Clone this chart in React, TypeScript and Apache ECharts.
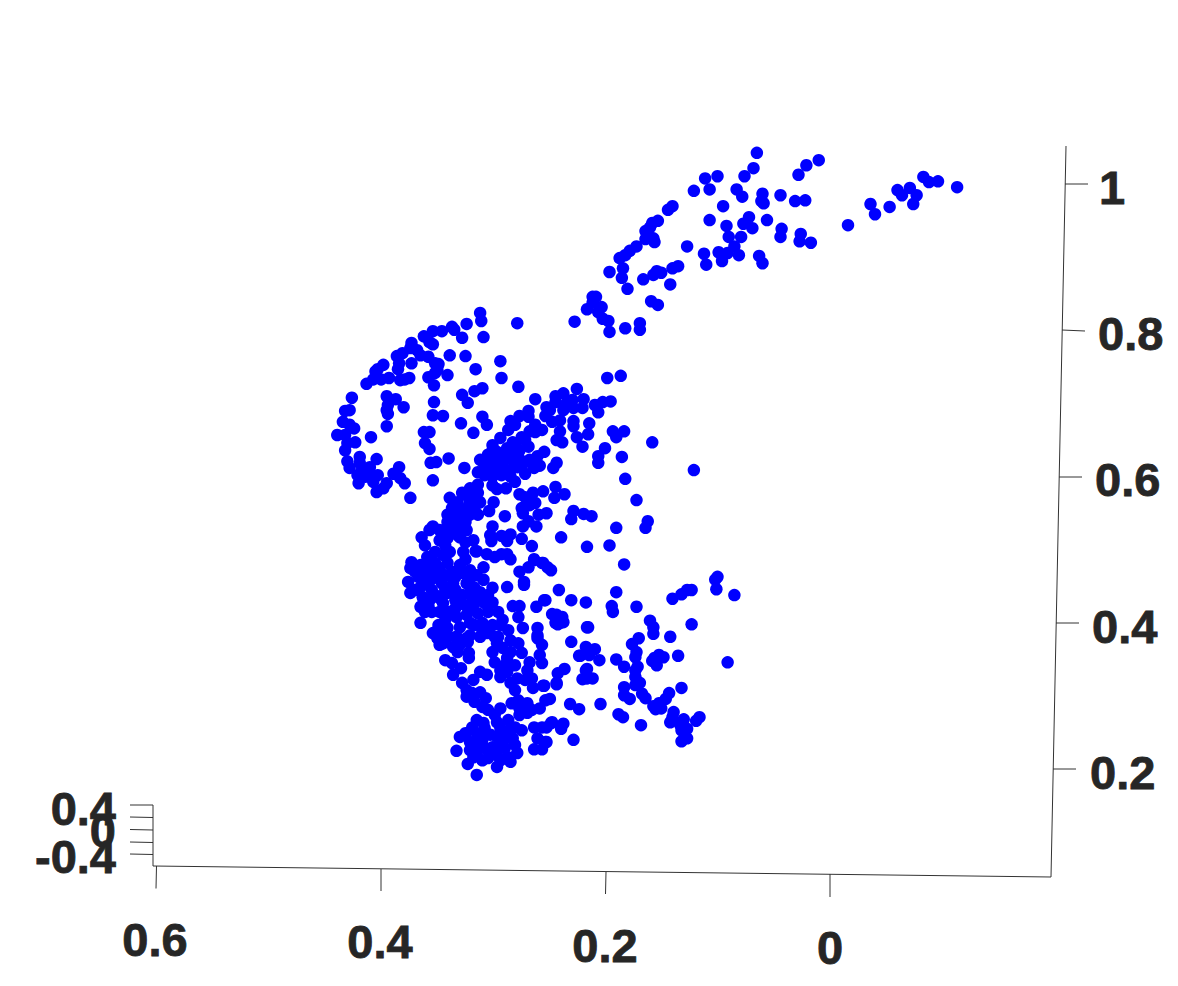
import React, { useEffect, useRef } from "react";
import * as echarts from "echarts";

const upperArm = [[.065,1.044],[.068,1.023],[.076,1.012],[.100,1.012],[.111,1.009],[.107,.994],[.121,.992],[.083,.994],[.078,.984],[.060,.988],[.061,.978],[.059,.975],[.044,.986],[.031,.978],[.022,.979],[.028,1.014],[.021,1.027],[.010,1.034],[.095,.971],[.140,.971],[.144,.966],[.107,.952],[.072,.956],[.056,.952],[.077,.947],[.069,.941],[.092,.944],[.153,.951],[.158,.948],[.160,.942],[.164,.937],[.157,.927],[.156,.922],[.164,.926],[.172,.916],[.178,.910],[.182,.904],[.187,.900],[.184,.886],[.196,.881],[.185,.873],[.180,.858],[.166,.871],[.157,.877],[.154,.882],[.150,.880],[.140,.886],[.135,.889],[.142,.864],[.127,.916],[.112,.906],[.110,.891],[.099,.908],[.096,.896],[.096,.904],[.090,.929],[.079,.929],[.085,.916],[.091,.907],[.081,.904],[.063,.903],[.060,.893],[.043,.940],[.044,.929],[.026,.933],[.027,.923],[.017,.921],[-.016,.945],[-.036,.974],[-.040,.960],[-.053,.970],[-.060,.993],[-.064,.986],[-.071,.996],[-.077,.986],[-.074,.974],[-.083,1.011],[-.088,1.004],[-.096,1.005],[-.113,.997],[.211,.847],[.208,.847],[.211,.839],[.203,.833],[.216,.830],[.206,.826],[.202,.817],[.197,.814],[.227,.813],[.196,.799],[.182,.804],[.169,.811],[.169,.802],[.159,.841],[.153,.836]];

const leftArc = [[.311,.825],[.310,.814],[.323,.810],[.278,.811],[.336,.806],[.334,.802],[.345,.800],[.353,.800],[.361,.793],[.356,.785],[.353,.782],[.327,.791],[.308,.792],[.372,.784],[.373,.777],[.367,.774],[.380,.770],[.385,.766],[.364,.767],[.372,.756],[.357,.765],[.338,.767],[.324,.766],[.293,.759],[.383,.756],[.384,.748],[.397,.754],[.402,.748],[.404,.745],[.351,.756],[.348,.755],[.349,.747],[.315,.748],[.340,.740],[.351,.743],[.357,.737],[.292,.736],[.352,.726],[.277,.724],[.374,.736],[.382,.733],[.378,.734],[.392,.736],[.399,.734],[.406,.734],[.412,.728],[.309,.722],[.316,.718],[.327,.713],[.322,.702],[.425,.709],[.394,.711],[.386,.707],[.393,.699],[.394,.692],[.379,.696],[.393,.687],[.394,.670],[.352,.703],[.353,.685],[.344,.684],[.328,.674],[.309,.683],[.305,.672],[.317,.661],[.427,.692],[.431,.691],[.433,.676],[.427,.672],[.423,.667],[.438,.658],[.431,.658],[.429,.647],[.422,.648],[.431,.637],[.408,.655],[.361,.662],[.356,.662],[.360,.647],[.356,.639],[.418,.628],[.403,.625],[.429,.622],[.427,.613],[.339,.626],[.350,.621],[.355,.620],[.325,.613],[.383,.614],[.388,.605],[.382,.599],[.378,.592],[.353,.596],[.373,.572],[.418,.620],[.416,.610],[.409,.614],[.402,.603],[.413,.601],[.420,.603],[.419,.592],[.406,.594],[.394,.592],[.397,.585],[.403,.580],[.411,.606]];

const midBand = [[.186,.739],[.198,.736],[.225,.721],[.262,.707],[.237,.715],[.244,.711],[.244,.703],[.229,.706],[.219,.707],[.195,.704],[.202,.703],[.209,.699],[.206,.689],[.220,.695],[.228,.695],[.234,.702],[.237,.692],[.252,.696],[.268,.691],[.276,.684],[.268,.683],[.253,.684],[.240,.678],[.247,.676],[.228,.677],[.228,.670],[.214,.674],[.215,.659],[.225,.655],[.240,.663],[.243,.651],[.238,.648],[.220,.642],[.193,.663],[.183,.663],[.190,.655],[.158,.648],[.200,.640],[.206,.629],[.206,.620],[.185,.628],[.121,.610],[.182,.598],[.172,.569],[.162,.540],[.164,.531],[.190,.531],[.196,.507],[.216,.505],[.239,.518],[.265,.506],[.284,.677],[.280,.672],[.286,.665],[.293,.654],[.267,.663],[.256,.665],[.262,.662],[.300,.644],[.274,.655],[.282,.648],[.268,.642],[.287,.640],[.296,.635],[.304,.631],[.311,.624],[.298,.624],[.291,.626],[.283,.631],[.277,.628],[.271,.621],[.254,.635],[.260,.629],[.258,.616],[.263,.613],[.271,.605],[.243,.620],[.246,.613],[.278,.614],[.291,.613],[.302,.614],[.313,.607],[.300,.601],[.292,.603],[.284,.601],[.280,.594],[.296,.584],[.288,.585],[.299,.566],[.303,.554],[.289,.547],[.300,.533],[.302,.521],[.301,.513],[.292,.520],[.284,.522],[.287,.513],[.274,.516],[.244,.587],[.255,.581],[.264,.579],[.276,.577],[.271,.573],[.262,.565],[.267,.562],[.274,.558],[.273,.551],[.236,.577],[.245,.572],[.252,.551],[.259,.549],[.228,.554],[.230,.543],[.219,.550],[.212,.547],[.268,.540],[.273,.533],[.261,.533],[.315,.499],[.305,.495],[.292,.495],[.287,.495],[.284,.488],[.263,.488],[.300,.637],[.289,.624],[.280,.617],[.307,.617],[.296,.610],[.284,.610],[.307,.603],[.293,.631],[.280,.644],[.271,.651],[.262,.672],[.249,.692],[.276,.637],[.267,.624],[.300,.589]];

const denseBlob = [[.313,.590],[.320,.585],[.313,.579],[.327,.579],[.338,.572],[.318,.572],[.331,.566],[.311,.566],[.322,.559],[.336,.558],[.316,.558],[.329,.553],[.340,.549],[.320,.549],[.313,.549],[.333,.544],[.340,.539],[.324,.539],[.332,.532],[.340,.528],[.323,.528],[.353,.533],[.356,.528],[.363,.518],[.360,.507],[.340,.517],[.329,.518],[.317,.514],[.324,.511],[.342,.507],[.351,.498],[.326,.498],[.324,.488],[.314,.499],[.308,.477],[.344,.494],[.358,.491],[.372,.484],[.373,.476],[.364,.480],[.351,.483],[.340,.483],[.375,.457],[.373,.442],[.366,.464],[.357,.471],[.348,.469],[.336,.471],[.326,.469],[.314,.466],[.308,.460],[.364,.450],[.357,.455],[.345,.455],[.335,.455],[.323,.455],[.300,.449],[.316,.449],[.362,.436],[.351,.439],[.340,.442],[.327,.439],[.318,.436],[.304,.439],[.364,.423],[.357,.425],[.354,.416],[.364,.401],[.344,.428],[.333,.421],[.324,.425],[.316,.428],[.307,.428],[.300,.429],[.332,.409],[.323,.412],[.313,.414],[.304,.416],[.295,.416],[.291,.405],[.286,.391],[.342,.405],[.348,.398],[.351,.388],[.340,.394],[.329,.395],[.320,.401],[.309,.401],[.300,.398],[.309,.387],[.340,.384],[.332,.382],[.323,.380],[.298,.382],[.287,.450],[.282,.424],[.276,.424],[.277,.409],[.273,.394],[.260,.394],[.260,.384],[.261,.423],[.254,.432],[.247,.413],[.276,.471],[.272,.457],[.272,.453],[.268,.477],[.263,.487],[.251,.477],[.256,.483],[.298,.491]];

const denseFill = [[.369,.471],[.360,.460],[.353,.462],[.342,.466],[.333,.464],[.320,.462],[.369,.446],[.354,.446],[.342,.446],[.333,.446],[.320,.443],[.311,.443],[.356,.432],[.347,.435],[.333,.432],[.311,.435],[.360,.416],[.347,.416],[.338,.416],[.320,.419],[.329,.480],[.320,.473],[.347,.476],[.357,.480],[.364,.471],[.324,.576],[.320,.565],[.333,.558],[.327,.549],[.338,.535],[.331,.521],[.347,.528],[.347,.514],[.338,.498],[.293,.398],[.316,.398],[.284,.377],[.289,.343],[.280,.343],[.320,.384],[.280,.309],[.271,.323],[.342,.388],[.347,.371],[.329,.371],[.302,.248],[.314,.237],[.302,.220],[.293,.234],[.284,.254],[.293,.213],[.320,.227],[.308,.252],[.286,.268],[.274,.254],[.296,.265]];

const lowerBlob = [[.260,.380],[.256,.371],[.230,.375],[.216,.395],[.240,.401],[.244,.401],[.222,.356],[.217,.368],[.217,.336],[.216,.325],[.220,.324],[.353,.387],[.349,.380],[.340,.382],[.331,.380],[.322,.375],[.344,.373],[.335,.368],[.331,.361],[.321,.360],[.321,.353],[.342,.350],[.336,.346],[.328,.339],[.335,.330],[.327,.319],[.317,.323],[.311,.334],[.305,.330],[.323,.309],[.318,.305],[.311,.306],[.323,.300],[.306,.298],[.316,.293],[.309,.286],[.304,.282],[.298,.275],[.293,.284],[.283,.291],[.277,.295],[.269,.291],[.276,.284],[.276,.275],[.269,.278],[.265,.282],[.258,.284],[.253,.295],[.249,.297],[.231,.290],[.223,.283],[.305,.387],[.295,.382],[.311,.382],[.296,.373],[.300,.361],[.291,.367],[.277,.373],[.284,.361],[.274,.360],[.298,.347],[.287,.353],[.267,.347],[.256,.346],[.258,.357],[.293,.336],[.287,.334],[.293,.327],[.269,.336],[.265,.325],[.278,.325],[.284,.319],[.264,.312],[.255,.315],[.243,.319],[.242,.332],[.236,.338],[.314,.268],[.318,.258],[.308,.264],[.324,.250],[.329,.245],[.314,.250],[.307,.257],[.320,.238],[.309,.241],[.332,.226],[.322,.208],[.314,.193],[.314,.223],[.307,.230],[.317,.217],[.309,.213],[.300,.231],[.296,.245],[.293,.257],[.287,.245],[.280,.258],[.282,.243],[.280,.234],[.289,.230],[.296,.220],[.304,.216],[.278,.223],[.286,.217],[.284,.211],[.296,.204],[.263,.258],[.256,.258],[.248,.264],[.237,.263],[.239,.256],[.260,.243],[.252,.238],[.263,.228],[.256,.228],[.228,.241]];

const rightScatter = [[.183,.481],[.255,.483],[.248,.473],[.100,.464],[.102,.460],[.101,.447],[.085,.439],[.123,.446],[.127,.446],[.132,.440],[.140,.434],[.190,.443],[.241,.446],[.253,.432],[.230,.432],[.217,.429],[.194,.424],[.193,.416],[.172,.423],[.243,.412],[.238,.409],[.237,.402],[.242,.399],[.215,.395],[.160,.404],[.157,.395],[.157,.386],[.123,.399],[.142,.382],[.170,.380],[.176,.372],[.209,.365],[.214,.357],[.223,.356],[.205,.350],[.190,.351],[.172,.361],[.173,.354],[.135,.356],[.152,.357],[.148,.354],[.158,.349],[.154,.343],[.156,.353],[.091,.347],[.183,.341],[.171,.341],[.173,.336],[.173,.327],[.243,.317],[.254,.315],[.216,.338],[.211,.325],[.169,.319],[.173,.316],[.132,.312],[.183,.313],[.183,.302],[.178,.297],[.167,.304],[.164,.298],[.143,.305],[.146,.297],[.157,.287],[.152,.291],[.150,.284],[.155,.283],[.204,.290],[.188,.276],[.184,.272],[.168,.261],[.139,.279],[.140,.272],[.142,.265],[.130,.269],[.133,.261],[.127,.256],[.132,.254],[.116,.272],[.119,.267],[.127,.243],[.132,.239],[.247,.265],[.252,.258],[.253,.238]];

const xTickValues = [0, 0.2, 0.4, 0.6];
const xTickLabels = ["0", "0.2", "0.4", "0.6"];
const yTickValues = [0.2, 0.4, 0.6, 0.8, 1];
const yTickLabels = ["0.2", "0.4", "0.6", "0.8", "1"];
const zTickLabels = ["0.4", "0", "-0.4"];

const TEXT = "#262626";
const LINE = "#333333";
const FONT = "'Liberation Sans', Arial, sans-serif";
const FS = 47;
const STROKE = 0.8;

const seg = (x1: number, y1: number, x2: number, y2: number) => ({
  type: "line",
  silent: true,
  shape: { x1, y1, x2, y2 },
  style: { stroke: LINE, lineWidth: 1 },
});

export default function App() {
  const ref = useRef<HTMLDivElement>(null);
  useEffect(() => {
    document.body.style.margin = "0";
    const chart = echarts.init(ref.current!, undefined, { renderer: "svg" });
    const xRich: any = {};
    xTickLabels.forEach((l, i) => {
      xRich["t" + i] = { fontSize: FS, fontWeight: "bold", fontFamily: FONT, color: TEXT, textBorderColor: TEXT, textBorderWidth: STROKE, padding: [[8, 0, 0, 0], [6, 0, 0, 0], [2, 0, 0, 0], [0, 0, 0, 0]][i] };
    });
    const yRich: any = {};
    yTickLabels.forEach((l, i) => {
      yRich["t" + i] = { fontSize: FS, fontWeight: "bold", fontFamily: FONT, color: TEXT, textBorderColor: TEXT, textBorderWidth: STROKE, padding: [5, 0, 0, [0, 2, 5, 8, 9][i]] };
    });
    chart.setOption({
      animation: false,
      backgroundColor: "#ffffff",
      grid: { left: 42.5, width: 1012.5, top: 38.8, height: 877.2 },
      xAxis: {
        type: "value",
        inverse: true,
        min: -0.2,
        max: 0.7,
        splitLine: { show: false },
        axisLine: { show: false },
        axisTick: { show: false },
        axisLabel: {
          margin: 0,
          customValues: xTickValues,
          formatter: (v: number) => {
            const i = xTickValues.findIndex((t) => Math.abs(t - v) < 1e-6);
            return i < 0 ? "" : `{t${i}|${xTickLabels[i]}}`;
          },
          rich: xRich,
        },
      },
      yAxis: {
        type: "value",
        position: "right",
        min: 0,
        max: 1.2,
        splitLine: { show: false },
        axisLine: { show: false },
        axisTick: { show: false },
        axisLabel: {
          margin: 35,
          align: "left",
          customValues: yTickValues,
          formatter: (v: number) => {
            const i = yTickValues.findIndex((t) => Math.abs(t - v) < 1e-6);
            return i < 0 ? "" : `{t${i}|${yTickLabels[i]}}`;
          },
          rich: yRich,
        },
      },
      graphic: {
        elements: [
          seg(153, 866, 1051, 877),
          seg(1066, 146, 1051, 877),
          seg(153, 805, 153, 866),
          seg(156.5, 866, 156, 888.5),
          seg(381, 869, 381, 891),
          seg(606, 872, 605.5, 894),
          seg(830, 874, 830, 897),
          seg(1065, 184, 1088, 184),
          seg(1062, 330, 1085, 331),
          seg(1059, 477, 1082, 477),
          seg(1056, 623, 1079, 623),
          seg(1053, 769, 1076, 769),
          seg(130, 805, 153, 805),
          seg(130, 817, 153, 817.5),
          seg(130, 829.5, 153, 830),
          seg(130, 842, 153, 842.5),
          seg(130, 854, 153, 854.5),
          ...zTickLabels.map((t, i) => ({
            type: "text",
            silent: true,
            x: 116,
            y: [808, 830, 856][i],
            style: {
              text: t,
              fontSize: FS,
              fontWeight: "bold",
              fontFamily: FONT,
              fill: TEXT,
              stroke: TEXT,
              lineWidth: STROKE,
              textAlign: "right",
              textVerticalAlign: "middle",
            },
          })),
        ],
      },
      series: [
        {
          type: "scatter",
          symbol: "circle",
          symbolSize: 12.5,
          clip: false,
          itemStyle: { color: "#0000ff", opacity: 1 },
          data: [...upperArm, ...leftArc, ...midBand, ...denseBlob, ...denseFill, ...lowerBlob, ...rightScatter],
        },
      ],
    });
    return () => chart.dispose();
  }, []);
  return <div ref={ref} style={{ width: 1178, height: 986 }} />;
}
